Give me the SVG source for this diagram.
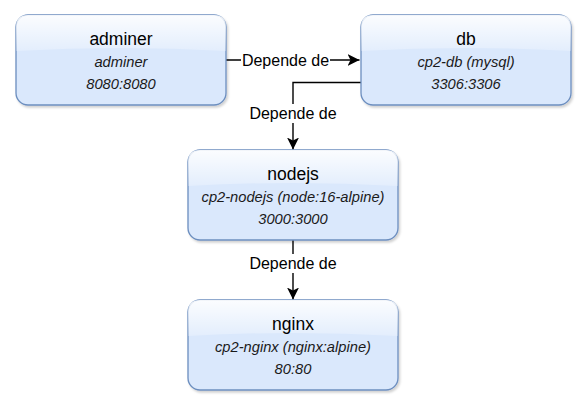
<svg xmlns="http://www.w3.org/2000/svg" width="585" height="407" viewBox="0 0 585 407">
<style>
.box{fill:#dae8fc;stroke:#6c8ebf;stroke-width:1.3}
.t{font-family:"Liberation Sans",Arial,sans-serif;font-size:17.5px;fill:#000;text-anchor:middle}
.s{font-family:"Liberation Sans",Arial,sans-serif;font-size:14.7px;font-style:italic;fill:#1a1a1a;text-anchor:middle}
.lbl{font-family:"Liberation Sans",Arial,sans-serif;font-size:16px;fill:#000;text-anchor:middle}
.edge{fill:none;stroke:#000;stroke-width:1.4}
</style>
<defs>
<linearGradient id="glass" x1="0" y1="0" x2="0" y2="1">
<stop offset="0" stop-color="#fff" stop-opacity="0.9"/>
<stop offset="1" stop-color="#fff" stop-opacity="0.25"/>
</linearGradient>
<filter id="sh" x="-10%" y="-10%" width="130%" height="140%">
<feDropShadow dx="1.5" dy="2" stdDeviation="1.2" flood-color="#000" flood-opacity="0.18"/>
</filter>
<marker id="arr" viewBox="0 0 12 12" refX="12" refY="6" markerWidth="12" markerHeight="12" markerUnits="userSpaceOnUse" orient="auto">
<path d="M0,0 L12,6 L0,12 L3,6 Z" fill="#000"/>
</marker>
</defs>

<g id="connectors">
<g id="e1">
<path class="edge" d="M226,60 H359.5" marker-end="url(#arr)"/>
<rect x="241" y="51" width="89" height="18" fill="#fff"/>
<text class="lbl" x="285.5" y="66">Depende de</text>
</g>
<g id="e2">
<path class="edge" d="M361,82.5 H293 V149.5" marker-end="url(#arr)"/>
<rect x="248" y="104" width="90" height="19" fill="#fff"/>
<text class="lbl" x="293" y="119">Depende de</text>
</g>
<g id="e3">
<path class="edge" d="M293,240 V299.5" marker-end="url(#arr)"/>
<rect x="248" y="254" width="90" height="19" fill="#fff"/>
<text class="lbl" x="293" y="269">Depende de</text>
</g>
</g>

<g id="adminer">
<rect class="box" x="16" y="15" width="210" height="90" rx="12" filter="url(#sh)"/>
<path d="M16,51 V27 Q16,15 28,15 H214 Q226,15 226,27 V51 Q121,45 16,51 Z" fill="url(#glass)"/>
<text class="t" x="121" y="45">adminer</text>
<text class="s" x="121" y="66.5">adminer</text>
<text class="s" x="121" y="89">8080:8080</text>
</g>

<g id="db">
<rect class="box" x="361" y="15" width="210" height="90" rx="12" filter="url(#sh)"/>
<path d="M361,51 V27 Q361,15 373,15 H559 Q571,15 571,27 V51 Q466,45 361,51 Z" fill="url(#glass)"/>
<text class="t" x="466" y="45">db</text>
<text class="s" x="466" y="66.5">cp2-db (mysql)</text>
<text class="s" x="466" y="89">3306:3306</text>
</g>

<g id="nodejs">
<rect class="box" x="188" y="150" width="210" height="90" rx="12" filter="url(#sh)"/>
<path d="M188,186 V162 Q188,150 200,150 H386 Q398,150 398,162 V186 Q293,180 188,186 Z" fill="url(#glass)"/>
<text class="t" x="293" y="180">nodejs</text>
<text class="s" x="293" y="201.5">cp2-nodejs (node:16-alpine)</text>
<text class="s" x="293" y="224">3000:3000</text>
</g>

<g id="nginx">
<rect class="box" x="188" y="300" width="210" height="90" rx="12" filter="url(#sh)"/>
<path d="M188,336 V312 Q188,300 200,300 H386 Q398,300 398,312 V336 Q293,330 188,336 Z" fill="url(#glass)"/>
<text class="t" x="293" y="330">nginx</text>
<text class="s" x="293" y="351.5">cp2-nginx (nginx:alpine)</text>
<text class="s" x="293" y="374">80:80</text>
</g>
</svg>
